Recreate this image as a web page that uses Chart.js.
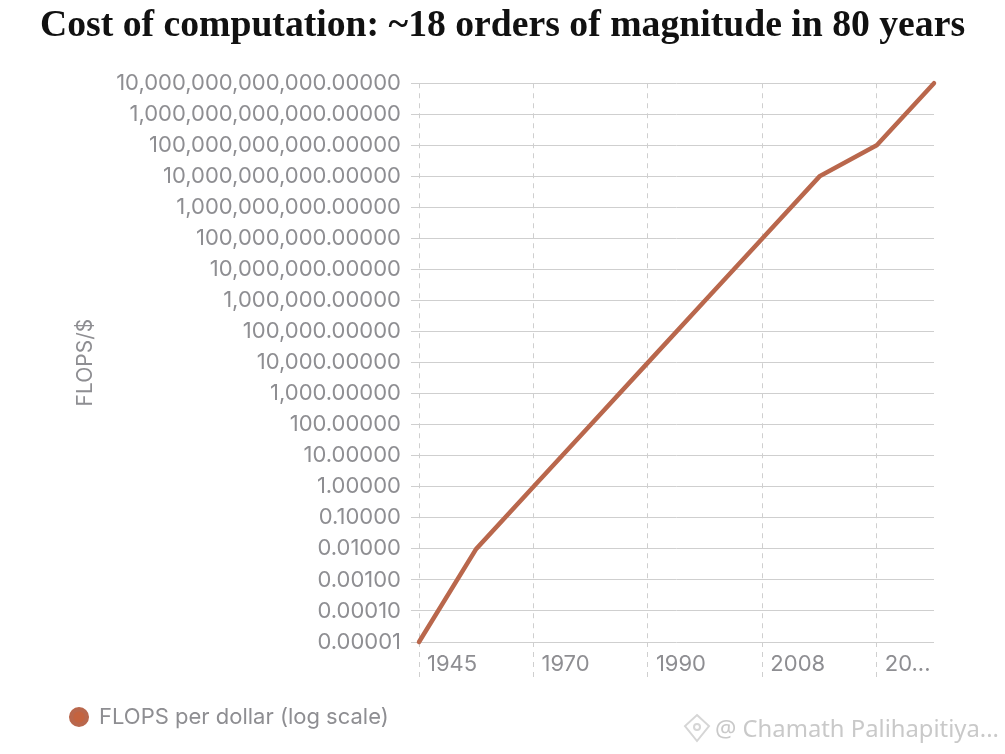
<!DOCTYPE html>
<html>
<head>
<meta charset="utf-8">
<title>Cost of computation</title>
<script src="https://cdn.jsdelivr.net/npm/chart.js@4"></script>
<style>
  html, body { margin: 0; padding: 0; background: #fff; }
  #wrap { position: relative; width: 1005px; height: 754px; overflow: hidden; }
  #mark {
    position: absolute; left: 683px; top: 712px;
    font: 23.8px "Noto Sans", sans-serif; color: #c9c9c9; white-space: nowrap;
  }
  #mark svg { vertical-align: -6px; margin-right: 4px; }
</style>
</head>
<body>
<div id="wrap">
  <canvas id="flopsChart" width="1005" height="754"></canvas>
  <div id="mark"><svg width="28" height="30" viewBox="0 0 28 30" fill="none" stroke="#d6d6d6" stroke-width="2"><path d="M14 2 L26 13 L14 28 L2 13 Z"/><circle cx="14" cy="14" r="3"/></svg>@ Chamath Palihapitiya...</div>
</div>
<script>
// tick labels and series
const categories = ['1945', '', '1970', '', '1990', '', '2008', '', '20...', ''];
const flopsPerDollar = [0.00001, 0.01, 1, 100, 10000, 1000000, 100000000, 10000000000, 100000000000, 10000000000000];
const yTickValues = [0.00001, 0.0001, 0.001, 0.01, 0.1, 1, 10, 100, 1000, 10000, 100000, 1000000, 10000000, 100000000, 1000000000, 10000000000, 100000000000, 1000000000000, 10000000000000];
const yTickLabels = ['0.00001', '0.00010', '0.00100', '0.01000', '0.10000', '1.00000', '10.00000', '100.00000', '1,000.00000', '10,000.00000', '100,000.00000', '1,000,000.00000', '10,000,000.00000', '100,000,000.00000', '1,000,000,000.00000', '10,000,000,000.00000', '100,000,000,000.00000', '1,000,000,000,000.00000', '10,000,000,000,000.00000'];

const GREY = '#8e8e92';
const SANS = 'Inter, sans-serif';

// title is wider than the padded area, let it use the whole canvas width
const fullWidthTitle = {
  id: 'fullWidthTitle',
  afterLayout(chart) {
    chart.titleBlock.left = 0;
    chart.titleBlock.right = chart.width;
  }
};

new Chart(document.getElementById('flopsChart'), {
  type: 'line',
  plugins: [fullWidthTitle],
  data: {
    labels: categories,
    datasets: [{
      label: 'FLOPS per dollar (log scale)',
      data: flopsPerDollar,
      borderColor: '#b9674c',
      backgroundColor: '#c4633f',
      borderWidth: 4.5,
      pointRadius: 0,
      tension: 0,
      borderCapStyle: 'round',
      clip: false
    }]
  },
  options: {
    responsive: false,
    animation: false,
    layout: { padding: { left: 62, right: 71, top: 4, bottom: 16 } },
    plugins: {
      title: {
        display: true,
        text: 'Cost of computation: ~18 orders of magnitude in 80 years',
        color: '#111',
        font: { family: '"Liberation Serif", serif', size: 37.7, weight: 'bold' },
        padding: { top: 0, bottom: 34 }
      },
      legend: {
        position: 'bottom',
        align: 'start',
        labels: {
          usePointStyle: true,
          boxWidth: 18,
          boxHeight: 11,
          color: GREY,
          font: { family: SANS, size: 22 },
          padding: 8
        }
      },
      tooltip: { enabled: false }
    },
    scales: {
      x: {
        offset: false,
        afterFit: s => { s.height = 56; },
        grid: {
          color: c => categories[c.index] ? '#cfcfcf' : 'transparent',
          tickColor: c => categories[c.index] ? '#cfcfcf' : 'transparent',
          tickLength: 35,
          tickBorderDash: [5, 5]
        },
        border: { display: false, dash: [5, 5] },
        ticks: {
          autoSkip: false,
          maxRotation: 0,
          align: 'start',
          labelOffset: 8,
          padding: -26,
          color: GREY,
          font: { family: SANS, size: 22 }
        }
      },
      y: {
        type: 'logarithmic',
        min: yTickValues[0],
        max: yTickValues[yTickValues.length - 1],
        afterBuildTicks: s => { s.ticks = yTickValues.map(value => ({ value, major: true })); },
        afterFit: s => { s.width = 357; },
        title: {
          display: true,
          text: 'FLOPS/$',
          color: GREY,
          font: { family: SANS, size: 21 },
          padding: { top: 11, bottom: 0 }
        },
        grid: { color: '#cfcfcf', tickColor: '#cfcfcf', tickLength: 8 },
        border: { display: false },
        ticks: {
          autoSkip: false,
          padding: 10,
          color: GREY,
          font: { family: SANS, size: 22 },
          callback: (v, i) => yTickLabels[i]
        }
      }
    }
  }
});
</script>
</body>
</html>
